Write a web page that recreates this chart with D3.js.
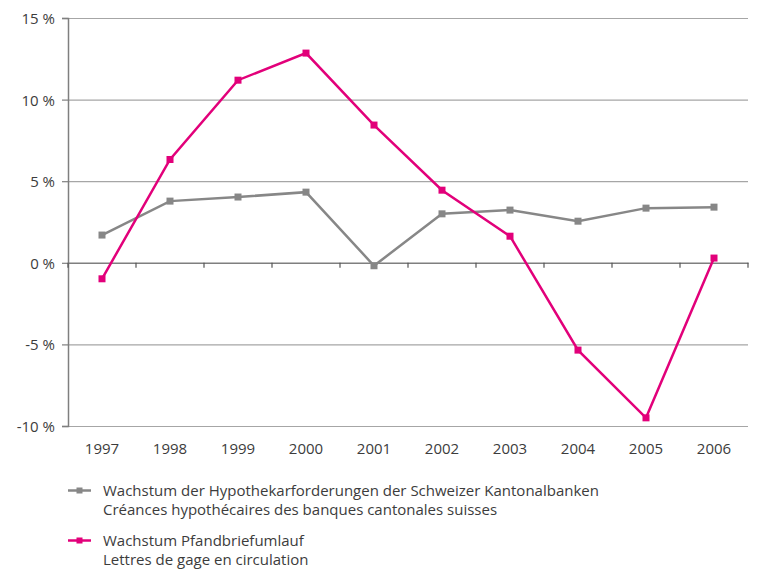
<!DOCTYPE html>
<html>
<head>
<meta charset="utf-8">
<script src="https://cdn.jsdelivr.net/npm/d3@7"></script>
<style>
  html, body { margin: 0; padding: 0; background: #fff; }
  svg { display: block; font-family: "Open Sans", sans-serif; font-weight: 400; }
</style>
</head>
<body>
<svg id="chart" width="760" height="569"></svg>
<script>
const years = ["1997","1998","1999","2000","2001","2002","2003","2004","2005","2006"];
const hypothek = [1.70, 3.78, 4.03, 4.33, -0.18, 3.00, 3.23, 2.55, 3.35, 3.41];
const pfandbrief = [-0.98, 6.33, 11.19, 12.85, 8.44, 4.45, 1.63, -5.35, -9.50, 0.29];
const yTicks = [-10, -5, 0, 5, 10, 15];
const legendLabels = [
  ["Wachstum der Hypothekarforderungen der Schweizer Kantonalbanken", "Créances hypothécaires des banques cantonales suisses"],
  ["Wachstum Pfandbriefumlauf", "Lettres de gage en circulation"]
];
const colors = ["#878787", "#e2007a"];

const svg = d3.select("#chart");
const plotLeft = 68, plotRight = 748, plotTop = 18, plotBottom = 426;
const textColor = "#3c3c3c";

const x = d3.scaleBand().domain(years).range([plotLeft, plotRight]);
const y = d3.scaleLinear().domain([-10, 15]).range([plotBottom, plotTop]);

// gridlines
svg.append("g").selectAll("line").data(yTicks.filter(d => d !== 0)).join("line")
  .attr("x1", plotLeft).attr("x2", plotRight)
  .attr("y1", d => y(d) + 0.5).attr("y2", d => y(d) + 0.5)
  .attr("stroke", "#a6a6a6").attr("stroke-width", 1.2);

// y axis
const yAxis = svg.append("g").attr("transform", `translate(${plotLeft},0)`)
  .call(d3.axisLeft(y).tickValues(yTicks).tickSize(6).tickPadding(7).tickFormat(d => d + " %"));
yAxis.select(".domain").attr("stroke", "#7f7f7f").attr("stroke-width", 1.5);
yAxis.selectAll(".tick line").attr("stroke", "#7f7f7f").attr("stroke-width", 1.2);
yAxis.selectAll("text").attr("fill", textColor).style("font-size", "15px")
  .style("font-family", "Open Sans").style("font-weight", 400).attr("dy", "0.36em");

// x axis at zero
const xAxis = svg.append("g").attr("transform", `translate(0,${y(0)})`)
  .call(d3.axisBottom(x).tickSize(0).tickFormat(""));
xAxis.select(".domain").attr("stroke", "#7f7f7f").attr("stroke-width", 1.5);
// band boundary ticks
const boundaries = years.map(d => x(d) + x.bandwidth()).concat([x(years[0])]);
svg.append("g").selectAll("line").data(boundaries).join("line")
  .attr("x1", d => d).attr("x2", d => d)
  .attr("y1", y(0)).attr("y2", y(0) + 5)
  .attr("stroke", "#555").attr("stroke-width", 1.2);

// x labels at bottom
svg.append("g").selectAll("text").data(years).join("text")
  .attr("x", d => x(d) + x.bandwidth() / 2)
  .attr("y", 454)
  .attr("text-anchor", "middle")
  .attr("fill", textColor)
  .style("font-size", "15px")
  .text(d => d);

// series
const series = [hypothek, pfandbrief];
const line = d3.line().x((d, i) => x(years[i]) + x.bandwidth() / 2).y(d => y(d));
series.forEach((s, k) => {
  svg.append("path").datum(s)
    .attr("d", line).attr("fill", "none")
    .attr("stroke", colors[k]).attr("stroke-width", 2.5)
    .attr("stroke-linejoin", "miter");
  svg.append("g").selectAll("rect").data(s).join("rect")
    .attr("x", (d, i) => x(years[i]) + x.bandwidth() / 2 - 3.5)
    .attr("y", d => y(d) - 3.5)
    .attr("width", 7).attr("height", 7)
    .attr("fill", colors[k]);
});

// legend
const legendY = [490.5, 540.5];
const lineBase = [[495.5, 515], [545.5, 564.5]];
const lg = svg.append("g");
legendLabels.forEach((lines, k) => {
  const g = lg.append("g");
  g.append("line").attr("x1", 68).attr("x2", 91)
    .attr("y1", legendY[k]).attr("y2", legendY[k])
    .attr("stroke", colors[k]).attr("stroke-width", 2.5);
  g.append("rect").attr("x", 76.5).attr("y", legendY[k] - 3)
    .attr("width", 6).attr("height", 6).attr("fill", colors[k]);
  lines.forEach((t, j) => {
    g.append("text").attr("x", 103).attr("y", lineBase[k][j])
      .attr("fill", textColor).style("font-size", "15px").text(t);
  });
});
</script>
</body>
</html>
